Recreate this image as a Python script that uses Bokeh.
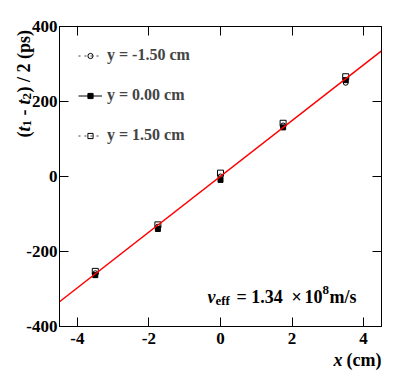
from math import pi
from bokeh.plotting import figure
from bokeh.models import (Range1d, FixedTicker, LinearAxis, Label, Legend, LegendItem,
                          ColumnDataSource)
from bokeh.embed import file_html
from bokeh.resources import INLINE

# ---- data ----
x_pos = [-3.5, -1.75, 0.0, 1.75, 3.5]
y_m150 = [-258, -134, 0, 136, 250]     # y = -1.50 cm (open circles)
y_000 = [-263, -140, -9, 131, 257]     # y = 0.00 cm (filled squares)
y_p150 = [-253, -129, 9, 142, 266]     # y = 1.50 cm (open squares)
fit_x = [-4.5, 4.5]
fit_y = [-334, 335]
legend_labels = ["y = -1.50 cm", "y = 0.00 cm", "y = 1.50 cm"]
x_ticks = [-4, -2, 0, 2, 4]
y_ticks = [-400, -200, 0, 200, 400]

FONT = "Liberation Serif"
W, H = 402, 383
p = figure(width=W, height=H, x_range=Range1d(-4.5, 4.5), y_range=Range1d(-400, 400),
           output_backend="svg", toolbar_location=None,
           min_border_left=59, min_border_right=W - 381, min_border_top=26, min_border_bottom=H - 326)
p.grid.visible = False
p.outline_line_color = "black"
p.background_fill_color = "white"
p.border_fill_color = "white"

def style_axis(ax, ticks, labels=True):
    ax.ticker = FixedTicker(ticks=ticks)
    ax.major_label_overrides = {t: str(t) for t in ticks}
    ax.major_tick_in = 9
    ax.major_tick_out = 0
    ax.minor_tick_line_color = None
    ax.axis_line_color = "black"
    ax.major_tick_line_color = "black"
    ax.major_label_text_font = FONT
    ax.major_label_text_font_style = "bold"
    ax.major_label_text_font_size = "17px" if labels else "0px"
    ax.major_label_text_color = "black" if labels else None
    ax.major_label_standoff = 3 if labels else 0

style_axis(p.xaxis[0], x_ticks)
style_axis(p.yaxis[0], y_ticks)
p.xaxis[0].major_label_standoff = 6
p.yaxis[0].major_label_standoff = 2
top = LinearAxis(); style_axis(top, x_ticks, labels=False)
right = LinearAxis(); style_axis(right, y_ticks, labels=False)
p.add_layout(top, "above")
p.add_layout(right, "right")

src = ColumnDataSource(dict(x=x_pos, ym=y_m150, y0=y_000, yp=y_p150))

# zero-length segments: invisible in the plot, give the line sample in the legend
g_m = p.segment("x", "ym", "x", "ym", source=src, line_color="#444444", line_dash="dotted", line_width=1)
g_0 = p.segment("x", "y0", "x", "y0", source=src, line_color="black", line_width=1)
g_p = p.segment("x", "yp", "x", "yp", source=src, line_color="#444444", line_dash="dotted", line_width=1)

s_m = p.scatter("x", "ym", source=src, marker="circle", size=5, fill_color=None, line_color="black", line_width=1)
s_0 = p.scatter("x", "y0", source=src, marker="square", size=5, fill_color="black", line_color="black")
s_p = p.scatter("x", "yp", source=src, marker="square", size=6, fill_color=None, line_color="black", line_width=1)

p.line(fit_x, fit_y, line_color="red", line_width=1.5)

legend = Legend(items=[LegendItem(label=legend_labels[0], renderers=[g_m, s_m]),
                       LegendItem(label=legend_labels[1], renderers=[g_0, s_0]),
                       LegendItem(label=legend_labels[2], renderers=[g_p, s_p])],
                location="top_left", margin=0, padding=19, spacing=20,
                glyph_width=24, glyph_height=13, label_height=20, label_standoff=5,
                label_text_font=FONT, label_text_font_style="bold", label_text_font_size="16px",
                label_text_baseline="middle",
                border_line_color="white", border_line_alpha=0, background_fill_alpha=0)
p.add_layout(legend, "center")

# ---- pixel -> data helpers for text placement ----
def px2x(px):
    return (px - 220.0) / (322.0 / 9.0)

def py2y(py):
    return (176.0 - py) / 0.375

def put(text, px, py, size=18, style="bold", angle=0.0, place="center"):
    p.add_layout(Label(x=px2x(px), y=py2y(py), text=text, angle=angle,
                       text_font=FONT, text_font_style=style, text_font_size=f"{size}px",
                       text_color="black", text_align="left", text_baseline="alphabetic"),
                 place)

# annotation v_eff (inside the frame)
put("v", 207, 296, 18, "bold italic")
put("eff", 215, 300, 13, "bold")
put("= 1.34", 236, 296, 18)
put("\u00d7", 291, 296, 18)
put("10", 304, 296, 18)
put("8", 322, 289, 13)
put("m/s", 329, 296, 18)

# x axis title (outside the frame: side panels, spread so each panel keeps its size)
put("x", 333, 359, 18, "bold italic", place="right")
put("(cm)", 346, 359, 18, place="below")

# y axis title (rotated)
a = pi / 2
put("(", 23, 137, 18, "bold", a, "above")
put("t", 23, 131, 18, "bold italic", a, "above")
put("1", 26, 126, 13, "bold", a, "below")
put("-", 23, 115, 18, "bold", a, "above")
put("t", 23, 104, 18, "bold italic", a, "above")
put("2", 26, 99, 13, "bold", a, "below")
put(") / 2 (ps)", 23, 92, 18, "bold", a, "left")

open("out.html", "w").write(file_html(p, INLINE))
